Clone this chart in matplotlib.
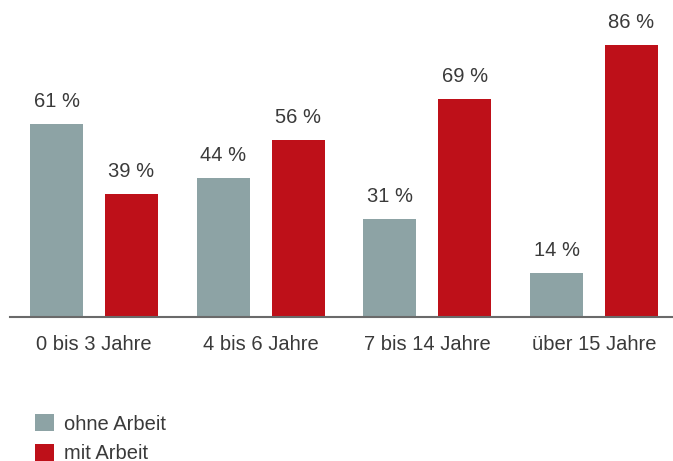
import matplotlib
matplotlib.use("Agg")
import matplotlib.pyplot as plt
import numpy as np

categories = ["0 bis 3 Jahre", "4 bis 6 Jahre", "7 bis 14 Jahre", "über 15 Jahre"]
ohne_arbeit = [61, 44, 31, 14]
mit_arbeit = [39, 56, 69, 86]
series_names = ["ohne Arbeit", "mit Arbeit"]

GRAY = "#8da3a5"
RED = "#be1019"
TEXT = "#3a3a3a"

plt.rcParams["font.family"] = ["Liberation Sans", "DejaVu Sans"]
FS = 14.5

fig = plt.figure(figsize=(6.73, 4.61), dpi=100)
W, H = 673, 461
ax = fig.add_axes([10 / W, 144 / H, 663 / W, 317 / H])

x = np.arange(len(categories))
off = 0.225
width = 0.318
b1 = ax.bar(x - off, ohne_arbeit, width, color=GRAY, label=series_names[0])
b2 = ax.bar(x + off, mit_arbeit, width, color=RED, label=series_names[1])

for bars, vals in ((b1, ohne_arbeit), (b2, mit_arbeit)):
    for rect, v in zip(bars, vals):
        ax.annotate(f"{v} %", (rect.get_x() + rect.get_width() / 2, v),
                    xytext=(0, 16), textcoords="offset points",
                    ha="center", va="center", fontsize=FS, color=TEXT)

ax.set_xlim(-0.504, 3.474)
ax.set_ylim(0, 100.2)
ax.set_xticks(x)
ax.set_xticklabels(categories, fontsize=FS, color=TEXT)
ax.tick_params(axis="x", length=0, pad=13)
ax.set_yticks([])
for s in ("top", "right", "left"):
    ax.spines[s].set_visible(False)
ax.spines["bottom"].set_color("#6a6a6a")
ax.spines["bottom"].set_linewidth(1.5)

fig.legend(handles=[b1, b2], labels=series_names, loc="upper left",
           bbox_to_anchor=(35 / W, 1 - 414 / H), frameon=False,
           borderaxespad=0, borderpad=0, fontsize=FS, labelcolor=TEXT,
           handlelength=0.95, handleheight=0.95, handletextpad=0.5,
           labelspacing=0.5)

fig.savefig("out.png", dpi=100)
